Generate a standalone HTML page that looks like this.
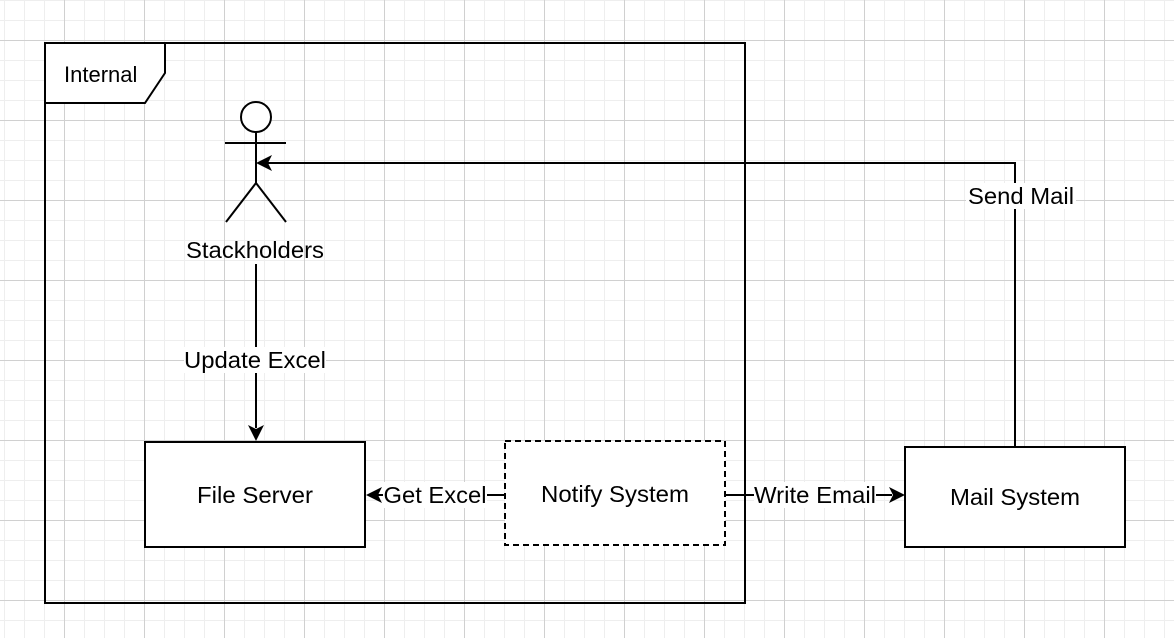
<!DOCTYPE html>
<html><head><style>
body{margin:0;width:1174px;height:638px;overflow:hidden;background:#fff;
background-image:linear-gradient(#d0d0d0 1px,transparent 1px),linear-gradient(90deg,#d0d0d0 1px,transparent 1px),linear-gradient(#eeeeee 1px,transparent 1px),linear-gradient(90deg,#eeeeee 1px,transparent 1px);
background-size:80px 80px,80px 80px,20px 20px,20px 20px;background-position:0 40px,64px 0,0 0,4px 0;}
svg{position:absolute;left:0;top:0}
text{font-family:"Liberation Sans",sans-serif;font-size:23px;fill:#000}
</style></head><body>
<svg width="1174" height="638">
<rect x="45" y="43" width="700" height="560" fill="none" stroke="#000" stroke-width="2"/>
<path d="M45 43H165V73L145 103H45Z" fill="#fff" stroke="#000" stroke-width="2"/>
<text x="64" y="82" style="font-size:22px">Internal</text>
<circle cx="256" cy="117" r="15" fill="#fff" stroke="#000" stroke-width="2"/>
<path d="M225 143H286M256 132V183L226 222M256 183L286 222" stroke="#000" stroke-width="2" fill="none"/>
<text x="255" y="258" text-anchor="middle" textLength="138" lengthAdjust="spacingAndGlyphs">Stackholders</text>
<path d="M256 264V428" stroke="#000" stroke-width="2"/>
<path d="M256 441L248 425L256 429L264 425Z" fill="#000"/>
<rect x="184" y="347" width="142" height="26" fill="#fff"/>
<text x="255" y="368" text-anchor="middle" textLength="142" lengthAdjust="spacingAndGlyphs">Update Excel</text>
<rect x="145" y="442" width="220" height="105" fill="#fff" stroke="#000" stroke-width="2"/>
<text x="255" y="503" text-anchor="middle" textLength="116" lengthAdjust="spacingAndGlyphs">File Server</text>
<rect x="505" y="441" width="220" height="104" fill="#fff" stroke="#000" stroke-width="2" stroke-dasharray="6 4"/>
<text x="615" y="502" text-anchor="middle" textLength="148" lengthAdjust="spacingAndGlyphs">Notify System</text>
<rect x="905" y="447" width="220" height="100" fill="#fff" stroke="#000" stroke-width="2"/>
<text x="1015" y="505" text-anchor="middle" textLength="130" lengthAdjust="spacingAndGlyphs">Mail System</text>
<path d="M505 495H378" stroke="#000" stroke-width="2"/>
<path d="M366 495L382 487L378 495L382 503Z" fill="#000"/>
<rect x="383" y="482" width="104" height="26" fill="#fff"/>
<text x="435" y="503" text-anchor="middle" textLength="103" lengthAdjust="spacingAndGlyphs">Get Excel</text>
<path d="M725 495H892" stroke="#000" stroke-width="2"/>
<path d="M905 495L889 487L893 495L889 503Z" fill="#000"/>
<rect x="754" y="482" width="122" height="26" fill="#fff"/>
<text x="815" y="503" text-anchor="middle" textLength="122" lengthAdjust="spacingAndGlyphs">Write Email</text>
<path d="M1015 447V163H268" stroke="#000" stroke-width="2" fill="none"/>
<path d="M256 163L272 155L268 163L272 171Z" fill="#000"/>
<rect x="966" y="183" width="110" height="26" fill="#fff"/>
<text x="1021" y="204" text-anchor="middle" textLength="106" lengthAdjust="spacingAndGlyphs">Send Mail</text>
</svg>
</body></html>
